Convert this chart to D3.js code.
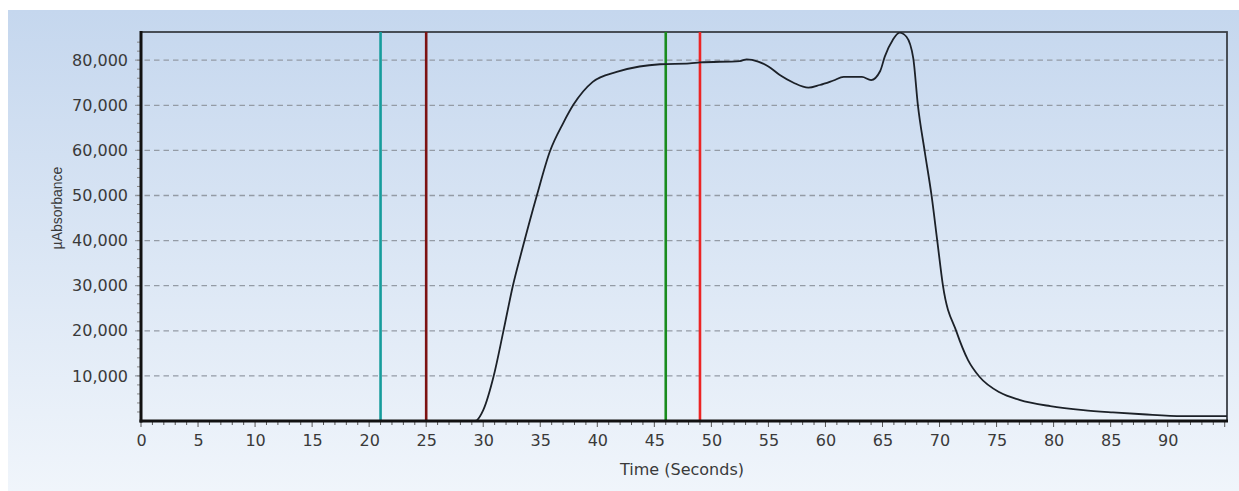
<!DOCTYPE html>
<html>
<head>
<meta charset="utf-8">
<script src="https://cdn.jsdelivr.net/npm/d3@7"></script>
<style>
  body { margin: 0; background: #fff; }
  svg { display: block; font-family: "DejaVu Sans", Verdana, sans-serif; }
</style>
</head>
<body>
<div id="chart"></div>
<script>
// trace
var time = [0, 29.3, 30.0, 30.9, 31.75, 32.6, 33.4, 34.7, 35.85, 37.0, 37.9, 39.6, 41.7, 43.7, 45.5, 48.1, 49.0, 52.5, 53.1, 54.1, 55.0, 56.0, 57.2, 58.5, 59.5, 60.7, 61.6, 63.2, 64.0, 64.8, 65.2, 65.9, 66.5, 67.1, 67.7, 68.1, 68.7, 69.3, 69.8, 70.3, 71.5, 72.5, 73.5, 75.3, 77.0, 79.7, 82.6, 85.2, 87.8, 91.3, 95.2];
var absorbance = [0, 0, 2400, 9800, 19700, 30000, 37900, 50000, 59800, 66000, 70100, 75200, 77400, 78600, 79100, 79300, 79500, 79800, 80200, 79700, 78600, 76700, 75000, 73900, 74500, 75500, 76300, 76300, 75600, 77600, 80800, 84500, 86100, 85200, 80400, 70100, 59800, 50000, 40000, 30000, 19700, 13500, 9800, 6300, 4700, 3300, 2400, 1900, 1500, 1100, 1100];

var markerTimes = [21, 25, 46, 49];
var markerColors = ["#169c9c", "#7c1212", "#198c1e", "#ec2424"];

var xTicks = d3.range(0, 95, 5);
var yTicks = d3.range(10000, 90000, 10000);

var W = 1239, H = 491;
// plot box (window.top is reserved, so p-prefixed names)
var pL = 141, pT = 32, pR = 1227, pB = 421;

var svg = d3.select("#chart").append("svg")
    .attr("width", W)
    .attr("height", H);

var defs = svg.append("defs");
var grad = defs.append("linearGradient")
    .attr("id", "bg")
    .attr("x1", 0).attr("y1", 0).attr("x2", 0).attr("y2", 1);
grad.append("stop").attr("offset", "0%").attr("stop-color", "#c5d7ee");
grad.append("stop").attr("offset", "100%").attr("stop-color", "#f0f5fb");

defs.append("clipPath").attr("id", "clip")
    .append("rect")
    .attr("x", pL).attr("y", pT)
    .attr("width", pR - pL).attr("height", pB - pT);

svg.append("rect")
    .attr("x", 8).attr("y", 10)
    .attr("width", W - 8).attr("height", H - 10)
    .attr("fill", "url(#bg)");

var x = d3.scaleLinear().domain([0, 95.2]).range([pL, pR]);
var y = d3.scaleLinear().domain([0, 86250]).range([pB, pT]);

// dashed grid
svg.append("g")
    .selectAll("line")
    .data(yTicks).enter()
    .append("line")
    .attr("x1", pL - 6)
    .attr("x2", pR)
    .attr("y1", function(d) { return y(d); })
    .attr("y2", function(d) { return y(d); })
    .attr("stroke", "#949ba5")
    .attr("stroke-width", 1.3)
    .attr("stroke-dasharray", "5.5,4");

// minor ticks
svg.append("g")
    .selectAll("line")
    .data(d3.range(0, 96, 1)).enter()
    .append("line")
    .attr("x1", function(d) { return x(d); })
    .attr("x2", function(d) { return x(d); })
    .attr("y1", pB)
    .attr("y2", function(d) { return d % 5 === 0 ? pB + 6 : pB + 4; })
    .attr("stroke", "#555")
    .attr("stroke-width", 1);

svg.append("g")
    .selectAll("line")
    .data(d3.range(2000, 86000, 2000)).enter()
    .append("line")
    .attr("x1", pL - 4)
    .attr("x2", pL)
    .attr("y1", function(d) { return y(d); })
    .attr("y2", function(d) { return y(d); })
    .attr("stroke", "#888")
    .attr("stroke-width", 1);

// axes (labels only, lines drawn below)
var xAxis = svg.append("g")
    .attr("transform", "translate(0," + pB + ")")
    .call(d3.axisBottom(x).tickValues(xTicks).tickSize(0).tickPadding(14));
var yAxis = svg.append("g")
    .attr("transform", "translate(" + pL + ",0)")
    .call(d3.axisLeft(y).tickValues(yTicks).tickSize(0).tickPadding(13).tickFormat(d3.format(",")));

[xAxis, yAxis].forEach(function(a) {
    a.select(".domain").remove();
    a.selectAll("text")
        .attr("font-size", "16px")
        .attr("font-family", "DejaVu Sans, Verdana, sans-serif")
        .attr("fill", "#3a3a3a");
});

// plot frame
svg.append("rect")
    .attr("x", pL).attr("y", pT)
    .attr("width", pR - pL).attr("height", pB - pT)
    .attr("fill", "none")
    .attr("stroke", "#3a3f45")
    .attr("stroke-width", 1.8);

// markers
svg.append("g")
    .selectAll("line")
    .data(markerTimes).enter()
    .append("line")
    .attr("x1", function(d) { return x(d); })
    .attr("x2", function(d) { return x(d); })
    .attr("y1", pT)
    .attr("y2", pB)
    .attr("stroke", function(d, i) { return markerColors[i]; })
    .attr("stroke-width", 2.6);

var line = d3.line()
    .x(function(d, i) { return x(time[i]); })
    .y(function(d) { return y(d); })
    .curve(d3.curveMonotoneX);

svg.append("path")
    .datum(absorbance)
    .attr("clip-path", "url(#clip)")
    .attr("d", line)
    .attr("fill", "none")
    .attr("stroke", "#1c2128")
    .attr("stroke-width", 1.8);

// heavy left and bottom axis lines
svg.append("line")
    .attr("x1", pL).attr("x2", pL)
    .attr("y1", pT - 1).attr("y2", pB + 1.5)
    .attr("stroke", "#111").attr("stroke-width", 3);
svg.append("line")
    .attr("x1", pL - 1.5).attr("x2", pR + 1)
    .attr("y1", pB).attr("y2", pB)
    .attr("stroke", "#111").attr("stroke-width", 3);

svg.append("text")
    .attr("x", 682)
    .attr("y", 475)
    .attr("text-anchor", "middle")
    .attr("font-size", "16px")
    .attr("fill", "#3a3a3a")
    .text("Time (Seconds)");

svg.append("text")
    .attr("transform", "translate(62,208) rotate(-90)")
    .attr("text-anchor", "middle")
    .attr("font-family", "Liberation Sans, Arial, sans-serif")
    .attr("font-size", "14px")
    .attr("fill", "#3a3a3a")
    .text("µAbsorbance");
</script>
</body>
</html>
